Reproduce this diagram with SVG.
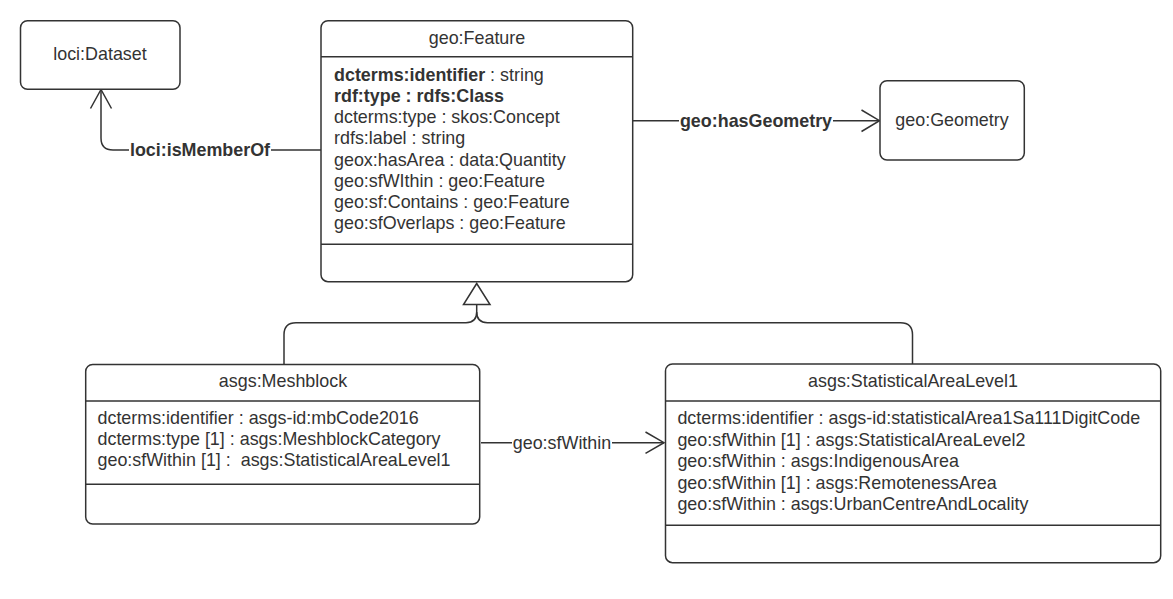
<svg xmlns="http://www.w3.org/2000/svg" width="1173" height="599" viewBox="0 0 1173 599">
<style>
text{font-family:"Liberation Sans",Arial,sans-serif;font-size:17.9px;fill:#333;white-space:pre}
.t{text-anchor:middle}
.b{font-weight:bold}
.box{fill:#fff;stroke:#333;stroke-width:1.5}
.ln{fill:none;stroke:#333;stroke-width:1.5}
.lab{fill:#fff;stroke:none}
</style>
<rect width="1173" height="599" fill="#fff"/>
<g id="connectors">
<path class="ln" d="M321,150 H113 Q101,150 101,138 V90"/>
<path class="ln" d="M90.5,108.5 L101,89.5 L111.5,108.5"/>
<rect class="lab" x="129" y="140" width="142" height="20"/>
<text class="t b" x="200" y="156">loci:isMemberOf</text>
<path class="ln" d="M633,120.7 H879"/>
<path class="ln" d="M861.5,110 L879.5,120.7 L861.5,131.5"/>
<rect class="lab" x="679" y="111" width="154" height="20"/>
<text class="t b" x="756" y="126.8">geo:hasGeometry</text>
<path class="ln" d="M476.7,304.5 V312 Q476.7,322.7 466,322.7 H296 Q284,322.7 284,334.7 V364.5"/>
<path class="ln" d="M476.7,312 Q476.7,322.7 487.4,322.7 H900.5 Q912.5,322.7 912.5,334.7 V364"/>
<polygon class="box" points="476.7,283.5 463.5,304.5 490,304.5"/>
<path class="ln" d="M481,442.7 H664"/>
<path class="ln" d="M645.5,432 L664,442.7 L645.5,453.4"/>
<rect class="lab" x="512" y="432" width="100" height="20"/>
<text class="t" x="562" y="448.8">geo:sfWithin</text>
</g>
<g id="loci-Dataset">
<rect class="box" x="20.5" y="20.7" width="159.5" height="68.6" rx="7"/>
<text class="t" x="100" y="59.5">loci:Dataset</text>
</g>
<g id="geo-Geometry">
<rect class="box" x="880" y="80.7" width="144.3" height="79.3" rx="7"/>
<text class="t" x="952" y="126">geo:Geometry</text>
</g>
<g id="geo-Feature">
<rect class="box" x="321" y="20.7" width="311.7" height="261" rx="7"/>
<path class="ln" d="M321,56.7 H632.7 M321,244.3 H632.7"/>
<text class="t" x="477" y="44">geo:Feature</text>
<text x="334" y="80.7"><tspan class="b">dcterms:identifier</tspan> : string</text>
<text class="b" x="334" y="101.9">rdf:type : rdfs:Class</text>
<text x="334" y="123.1">dcterms:type : skos:Concept</text>
<text x="334" y="144.3">rdfs:label : string</text>
<text x="334" y="165.5">geox:hasArea : data:Quantity</text>
<text x="334" y="186.7">geo:sfWIthin : geo:Feature</text>
<text x="334" y="207.9">geo:sf:Contains : geo:Feature</text>
<text x="334" y="229.1">geo:sfOverlaps : geo:Feature</text>
</g>
<g id="asgs-Meshblock">
<rect class="box" x="85.7" y="364.5" width="394" height="159.5" rx="7"/>
<path class="ln" d="M85.7,401 H479.7 M85.7,484.3 H479.7"/>
<text class="t" x="283" y="387">asgs:Meshblock</text>
<text x="97.5" y="423.7">dcterms:identifier : asgs-id:mbCode2016</text>
<text x="97.5" y="444.9">dcterms:type [1] : asgs:MeshblockCategory</text>
<text x="97.5" y="466.1">geo:sfWithin [1] :  asgs:StatisticalAreaLevel1</text>
</g>
<g id="asgs-StatisticalAreaLevel1">
<rect class="box" x="665.5" y="364" width="495.2" height="198.7" rx="7"/>
<path class="ln" d="M665.5,401 H1160.7 M665.5,525.3 H1160.7"/>
<text class="t" x="913" y="387">asgs:StatisticalAreaLevel1</text>
<text x="677.4" y="424.2">dcterms:identifier : asgs-id:statisticalArea1Sa111DigitCode</text>
<text x="677.4" y="445.7">geo:sfWithin [1] : asgs:StatisticalAreaLevel2</text>
<text x="677.4" y="467.2">geo:sfWithin : asgs:IndigenousArea</text>
<text x="677.4" y="488.7">geo:sfWithin [1] : asgs:RemotenessArea</text>
<text x="677.4" y="510.2">geo:sfWithin : asgs:UrbanCentreAndLocality</text>
</g>
</svg>
